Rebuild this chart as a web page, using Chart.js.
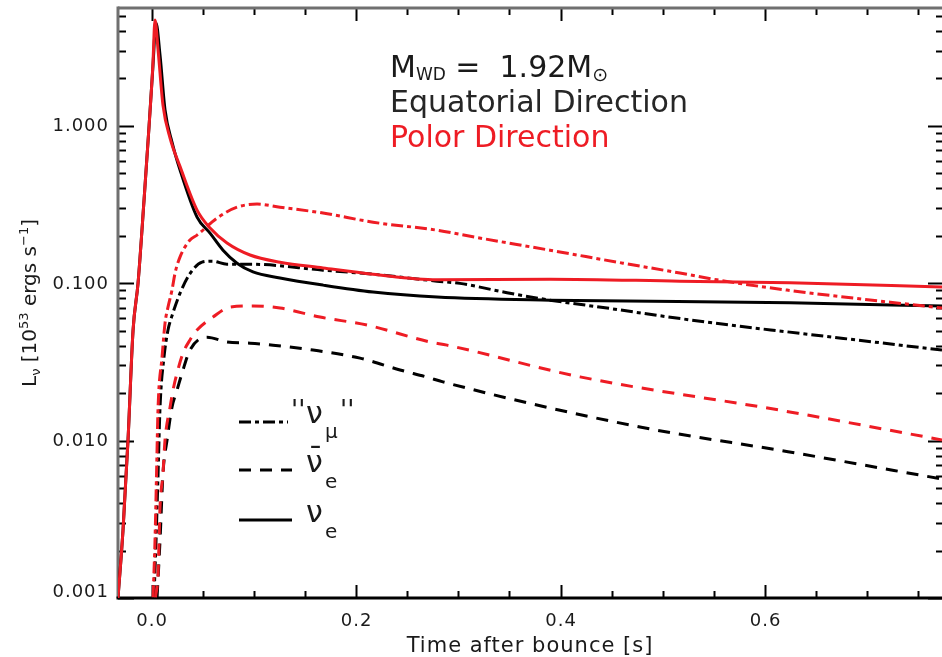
<!DOCTYPE html>
<html>
<head>
<meta charset="utf-8">
<script src="https://cdn.jsdelivr.net/npm/chart.js@4/dist/chart.umd.min.js"></script>
<style>
  html, body { margin: 0; padding: 0; background: #fff; }
  canvas { display: block; }
</style>
</head>
<body>
<canvas id="lum" width="942" height="657"></canvas>
<script>
// Neutrino luminosities [10^53 erg/s] against time after bounce [s]

// Polar direction, electron neutrinos
const tPolNuE = [-0.0328, -0.0279, -0.0230, -0.0181, -0.0132, -0.0073, -0.0024, 0.0012, 0.0034, 0.0064,
                 0.0112, 0.0181, 0.0279, 0.0445, 0.0572, 0.0738, 0.0963, 0.1256, 0.1677, 0.2166,
                 0.2792, 0.3896, 0.5167, 0.6243, 0.7730];
const lPolNuE = [0.0010, 0.0027, 0.0101, 0.050, 0.100, 0.34, 1.00, 2.36, 4.70, 3.03,
                 1.35, 0.835, 0.550, 0.291, 0.224, 0.180, 0.151, 0.136, 0.125, 0.114,
                 0.105, 0.106, 0.103, 0.1006, 0.0945];

// Equatorial direction, electron neutrinos
const tEqNuE = [-0.0328, -0.0279, -0.0230, -0.0181, -0.0132, -0.0073, -0.0024, 0.0012, 0.0044, 0.0083,
                0.0132, 0.0200, 0.0279, 0.0445, 0.0572, 0.0699, 0.0836, 0.0992, 0.1256, 0.1677,
                0.2166, 0.2792, 0.3896, 0.6243, 0.7730];
const lEqNuE = [0.0010, 0.0027, 0.0101, 0.050, 0.100, 0.34, 1.00, 2.30, 4.50, 2.81,
                1.26, 0.788, 0.523, 0.263, 0.208, 0.162, 0.134, 0.118, 0.108, 0.0972,
                0.0878, 0.0816, 0.0780, 0.0751, 0.0715];

// Polar direction, heavy-lepton ("nu_mu") neutrinos
const tPolNuMu = [0.0015, 0.0034, 0.0049, 0.0064, 0.0103, 0.0132, 0.0161, 0.0200, 0.0230, 0.0279,
                  0.0376, 0.0445, 0.0640, 0.0836, 0.1032, 0.1256, 0.1677, 0.2166, 0.2792, 0.3143,
                  0.3896, 0.4610, 0.5167, 0.5529, 0.6214, 0.7730];
const lPolNuMu = [0.00101, 0.00233, 0.0062, 0.0163, 0.034, 0.0558, 0.0705, 0.0904, 0.116, 0.147,
                  0.188, 0.202, 0.259, 0.304, 0.318, 0.304, 0.279, 0.244, 0.217, 0.197,
                  0.162, 0.134, 0.116, 0.105, 0.0904, 0.0695];

// Equatorial direction, heavy-lepton ("nu_mu") neutrinos
const tEqNuMu = [0.0024, 0.0044, 0.0064, 0.0083, 0.0122, 0.0161, 0.0200, 0.0279, 0.0376, 0.0494,
                 0.0592, 0.0738, 0.0963, 0.1677, 0.2166, 0.2792, 0.3016, 0.3476, 0.3896, 0.4454,
                 0.5040, 0.5754, 0.6214, 0.7730];
const lEqNuMu = [0.00101, 0.00233, 0.0062, 0.0163, 0.034, 0.0504, 0.062, 0.0864, 0.115, 0.136,
                 0.138, 0.132, 0.132, 0.121, 0.114, 0.103, 0.0997, 0.087, 0.078, 0.0695,
                 0.0612, 0.0532, 0.0491, 0.0376];

// Polar direction, electron antineutrinos
const tPolNuEbar = [0.0039, 0.0064, 0.0083, 0.0112, 0.0132, 0.0181, 0.0210, 0.0249, 0.0308, 0.0376,
                    0.0445, 0.0601, 0.0768, 0.0992, 0.1256, 0.1648, 0.2107, 0.2723, 0.2889, 0.4190,
                    0.6145, 0.7730];
const lPolNuEbar = [0.00101, 0.00144, 0.00378, 0.0062, 0.0101, 0.0163, 0.0209, 0.0268, 0.036, 0.0436,
                    0.0504, 0.0609, 0.0705, 0.0716, 0.0695, 0.0609, 0.0542, 0.0423, 0.0404, 0.0254,
                    0.0156, 0.0101];

// Equatorial direction, electron antineutrinos
const tEqNuEbar = [0.0054, 0.0083, 0.0112, 0.0152, 0.0200, 0.0249, 0.0298, 0.0376, 0.0543, 0.0738,
                   0.0963, 0.1188, 0.1579, 0.2039, 0.2430, 0.2694, 0.2850, 0.4776, 0.6224, 0.7730];
const lEqNuEbar = [0.00101, 0.00233, 0.0062, 0.0101, 0.0163, 0.0209, 0.0268, 0.0376, 0.0454, 0.0423,
                   0.0416, 0.0404, 0.0376, 0.0334, 0.0281, 0.0253, 0.0236, 0.0122, 0.0085, 0.0057];

// Axis ticks
const xTickValues = [0.0, 0.2, 0.4, 0.6];
const xTickLabels = ['0.0', '0.2', '0.4', '0.6'];
const yTickValues = [0.001, 0.01, 0.1, 1];
const yTickLabels = ['0.001', '0.010', '0.100', '1.000'];

const RED = '#ee1c24';
const INK = '#1a1a1a';
const FAMILY = '"DejaVu Sans", "Liberation Sans", sans-serif';
const DASHED = [12, 9];
const DASH_DOT = [12, 4, 4, 4];

const fontOf = px => px + 'px ' + FAMILY;
const points = (t, l) => t.map((v, i) => ({ x: v, y: l[i] }));

function setSpacing(ctx, px) {
  if ('letterSpacing' in ctx) ctx.letterSpacing = px + 'px';
}

// Runs of text with their own size and baseline shift, laid out left to right
function runsWidth(ctx, runs) {
  let w = 0;
  for (const r of runs) { ctx.font = fontOf(r.size); w += ctx.measureText(r.text).width; }
  return w;
}
function drawRuns(ctx, runs, x, y) {
  let cx = x;
  for (const r of runs) {
    ctx.font = fontOf(r.size);
    ctx.fillText(r.text, cx, y + (r.dy || 0));
    cx += ctx.measureText(r.text).width;
  }
}

// Box, inward ticks on all four sides
const framePlugin = {
  id: 'frame',
  beforeDatasetsDraw(chart) {
    const { ctx, chartArea: a, scales } = chart;
    const xs = scales.x, ys = scales.y;
    const farRight = chart.width + 2;
    ctx.save();
    ctx.lineCap = 'butt';
    ctx.strokeStyle = '#000';
    ctx.lineWidth = 2;
    const seg = (x1, y1, x2, y2) => { ctx.beginPath(); ctx.moveTo(x1, y1); ctx.lineTo(x2, y2); ctx.stroke(); };

    // log ticks: decades long, 2..9 short
    for (let e = -3; e <= 0; e++) {
      for (let m = 1; m <= 9; m++) {
        const v = m * Math.pow(10, e);
        if (v < ys.min - 1e-12 || v > ys.max) continue;
        const py = Math.round(ys.getPixelForValue(v)) + 0.5;
        const len = m === 1 ? 16 : 8;
        seg(a.left, py, a.left + len, py);
        seg(farRight, py, farRight - len, py);
      }
    }
    // time ticks: every 0.2 long, every 0.05 short
    const k0 = Math.ceil(xs.min / 0.05 - 1e-9), k1 = Math.floor(xs.max / 0.05 + 1e-9);
    for (let k = k0; k <= k1; k++) {
      const v = k * 0.05;
      const px = Math.round(xs.getPixelForValue(v)) + 0.5;
      const len = (k % 4 === 0) ? 13 : 7;
      seg(px, a.bottom, px, a.bottom - len);
      seg(px, a.top, px, a.top + len);
    }

    ctx.lineWidth = 3;
    ctx.strokeStyle = '#707070';
    seg(a.left, a.top, chart.width, a.top);
    seg(a.left, a.top - 1.5, a.left, a.bottom);
    ctx.strokeStyle = '#000';
    seg(a.left - 1.5, a.bottom, chart.width, a.bottom);
    ctx.restore();
  }
};

// Tick labels, axis titles, annotations and line-style key
const textPlugin = {
  id: 'texts',
  afterDraw(chart) {
    const { ctx, chartArea: a, scales } = chart;
    const xs = scales.x, ys = scales.y;
    ctx.save();
    ctx.fillStyle = INK;

    // tick labels
    setSpacing(ctx, 1);
    ctx.font = fontOf(18);
    ctx.textAlign = 'right';
    ctx.textBaseline = 'middle';
    yTickValues.forEach((v, i) => {
      let py = ys.getPixelForValue(v) + 1;
      if (i === 0) py -= 7;   // keep the lowest label clear of the time axis
      ctx.fillText(yTickLabels[i], a.left - 9, py);
    });
    ctx.textAlign = 'center';
    xTickValues.forEach((v, i) => {
      ctx.fillText(xTickLabels[i], xs.getPixelForValue(v) + 0.5, a.bottom + 23);
    });

    // x title
    ctx.font = fontOf(21);
    ctx.textBaseline = 'alphabetic';
    ctx.fillText('Time after bounce [s]', (a.left + a.right) / 2, a.bottom + 54);
    setSpacing(ctx, 0);

    // y title, reading upwards
    ctx.save();
    ctx.translate(36, (a.top + a.bottom) / 2);
    ctx.rotate(-Math.PI / 2);
    ctx.textAlign = 'left';
    const yTitle = [
      { text: 'L', size: 20 }, { text: 'ν', size: 13, dy: 4 },
      { text: ' [10', size: 20 }, { text: '53', size: 13, dy: -8 },
      { text: ' ergs s', size: 20 }, { text: '−1', size: 13, dy: -8 },
      { text: ']', size: 20 }
    ];
    drawRuns(ctx, yTitle, -runsWidth(ctx, yTitle) / 2, 0);
    ctx.restore();

    // model annotation
    ctx.textAlign = 'left';
    ctx.textBaseline = 'alphabetic';
    ctx.fillStyle = INK;
    drawRuns(ctx, [
      { text: 'M', size: 30 }, { text: 'WD', size: 17, dy: 3 },
      { text: ' =  1.92M', size: 30 }, { text: '⊙', size: 19, dy: 4 }
    ], 390, 77);
    ctx.fillStyle = '#262626';
    ctx.font = fontOf(30);
    ctx.fillText('Equatorial Direction', 390, 112);
    ctx.fillStyle = RED;
    ctx.fillText('Polor Direction', 390, 147);

    // line-style key
    ctx.strokeStyle = '#000';
    ctx.lineWidth = 3;
    const keyLine = (y, dash, x2) => {
      ctx.setLineDash(dash);
      ctx.beginPath(); ctx.moveTo(239, y); ctx.lineTo(x2, y); ctx.stroke();
    };
    keyLine(422, DASH_DOT, 288);
    keyLine(470, DASHED, 292);
    keyLine(520, [], 292);
    ctx.setLineDash([]);

    ctx.fillStyle = INK;
    ctx.font = fontOf(26);
    ctx.fillText("''", 291, 419);
    ctx.fillText("''", 340, 419);
    ctx.font = fontOf(30);
    ctx.fillText('ν', 306, 423);
    ctx.font = fontOf(20);
    ctx.fillText('μ', 325, 438);

    ctx.font = fontOf(30);
    ctx.fillText('¯', 308, 468);
    ctx.fillText('ν', 306, 472);
    ctx.font = fontOf(20);
    ctx.fillText('e', 325, 488);

    ctx.font = fontOf(30);
    ctx.fillText('ν', 306, 522);
    ctx.font = fontOf(20);
    ctx.fillText('e', 325, 538);

    ctx.restore();
  }
};

const lineStyle = (color, dash) => ({
  borderColor: color,
  borderWidth: 3,
  borderDash: dash,
  pointRadius: 0,
  fill: false,
  cubicInterpolationMode: 'monotone',
  borderJoinStyle: 'round'
});

new Chart(document.getElementById('lum'), {
  type: 'line',
  data: {
    datasets: [
      { label: 'polar nu_e', data: points(tPolNuE, lPolNuE), ...lineStyle(RED, []) },
      { label: 'polar nu_mu', data: points(tPolNuMu, lPolNuMu), ...lineStyle(RED, DASH_DOT) },
      { label: 'polar anti nu_e', data: points(tPolNuEbar, lPolNuEbar), ...lineStyle(RED, DASHED) },
      { label: 'equatorial nu_e', data: points(tEqNuE, lEqNuE), ...lineStyle('#000', []) },
      { label: 'equatorial nu_mu', data: points(tEqNuMu, lEqNuMu), ...lineStyle('#000', DASH_DOT) },
      { label: 'equatorial anti nu_e', data: points(tEqNuEbar, lEqNuEbar), ...lineStyle('#000', DASHED) }
    ]
  },
  options: {
    responsive: false,
    animation: false,
    devicePixelRatio: 1,
    layout: { padding: { left: 118, top: 8, right: 0, bottom: 59 } },
    plugins: { legend: { display: false }, tooltip: { enabled: false } },
    scales: {
      x: { type: 'linear', min: -0.0328, max: 0.773, display: false },
      y: { type: 'logarithmic', min: 0.001, max: 5.6, display: false }
    }
  },
  plugins: [framePlugin, textPlugin]
});
</script>
</body>
</html>
